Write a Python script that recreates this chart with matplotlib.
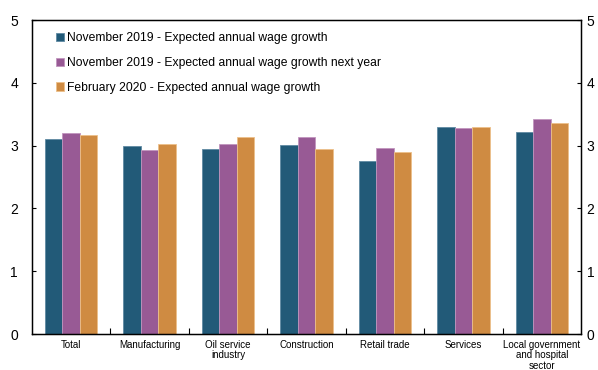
import numpy as np
import matplotlib
matplotlib.use("Agg")
import matplotlib.pyplot as plt

plt.rcParams['font.family'] = ['Liberation Sans', 'DejaVu Sans']

# expected annual wage growth by sector, per cent
sectors = ["Total", "Manufacturing", "Oil service\nindustry", "Construction",
           "Retail trade", "Services", "Local government\nand hospital\nsector"]
nov19 = [3.10, 2.99, 2.94, 3.01, 2.75, 3.30, 3.21]
nov19_next = [3.20, 2.93, 3.02, 3.14, 2.96, 3.28, 3.42]
feb20 = [3.17, 3.03, 3.13, 2.94, 2.90, 3.30, 3.36]

series = [
    ("November 2019 - Expected annual wage growth", nov19, "#225a78", "#5f8aa3"),
    ("November 2019 - Expected annual wage growth next year", nov19_next, "#985a95", "#c195be"),
    ("February 2020 - Expected annual wage growth", feb20, "#cf8b42", "#ecc08a"),
]

fig = plt.figure(figsize=(5.98, 3.70), dpi=100)
ax = fig.add_axes([32 / 598, 1 - 334 / 370, 549 / 598, 314 / 370])

x = np.arange(len(sectors))
w = 0.223
for i, (name, vals, col, edge) in enumerate(series):
    ax.bar(x + (i - 1) * w, vals, w, color=col, edgecolor=edge, linewidth=0.6, label=name)

ax.set_xlim(-0.5, len(sectors) - 0.5)
ax.set_ylim(0, 5)
ax.set_yticks(range(6))
ax.set_xticks(x)
ax.set_xticklabels(sectors, fontsize=7, linespacing=1.08)
ax.set_xticks(np.arange(0.5, len(sectors) - 1, 1), minor=True)
ax.tick_params(axis='x', which='major', length=0, pad=4)
ax.tick_params(axis='x', which='minor', direction='in', length=4, width=0.8)
ax.tick_params(axis='y', direction='in', length=3, width=0.8, labelsize=10, pad=10)
for s in ax.spines.values():
    s.set_linewidth(1.0)

# same scale repeated on the right
ax2 = ax.twinx()
ax2.set_ylim(ax.get_ylim())
ax2.set_yticks(range(6))
ax2.tick_params(axis='y', direction='in', length=3, width=0.8, labelsize=10, pad=4)

leg = ax.legend(loc='upper left', bbox_to_anchor=(0.0235, 0.995), frameon=False,
                fontsize=8.7, handlelength=0.7, handleheight=0.7,
                handletextpad=0.2, labelspacing=1.05)

fig.savefig("out.png", dpi=100)
